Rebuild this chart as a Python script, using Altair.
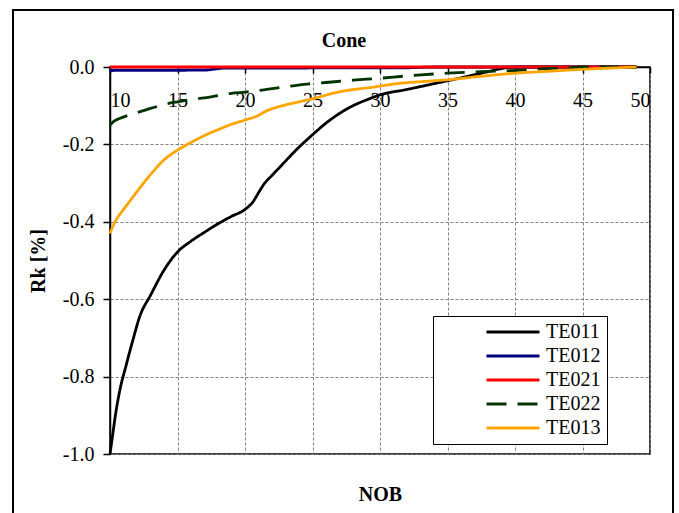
import altair as alt
import pandas as pd

series_names = ["TE011", "TE012", "TE021", "TE022", "TE013"]
series_colors = ["#000000", "#000080", "#FF0000", "#003300", "#FFA500"]
series_dash = [[1, 0], [1, 0], [1, 0], [20, 11], [1, 0]]

te011_nob = [10, 10.2, 10.4, 10.7, 11.2, 11.7, 12.2, 13, 14, 15, 16, 17, 18, 19, 20, 20.6, 21, 21.4, 22, 22.6, 23.8, 25, 26, 27, 28, 29, 30, 32, 34, 36, 38, 39, 40, 45, 49]
te011_rk = [-1.0, -0.95, -0.90, -0.84, -0.77, -0.705, -0.645, -0.59, -0.525, -0.478, -0.45, -0.427, -0.405, -0.386, -0.368, -0.348, -0.325, -0.303, -0.28, -0.258, -0.214, -0.175, -0.145, -0.12, -0.10, -0.085, -0.072, -0.058, -0.043, -0.028, -0.012, -0.004, 0.0, 0.0, 0.0]

te012_nob = [10, 17, 18.5, 32, 34, 49]
te012_rk = [-0.009, -0.008, -0.003, -0.002, 0.0, 0.0]

te021_nob = [10, 20, 30, 40, 49]
te021_rk = [0.0, 0.0, 0.0, 0.0, 0.0]

te022_nob = [10, 10.3, 10.7, 12, 13, 14, 15, 16, 17, 18, 19, 20, 21.6, 23, 24.6, 26, 28, 30, 32, 35, 37.5, 40, 42, 44, 45, 49]
te022_rk = [-0.15, -0.14, -0.133, -0.118, -0.107, -0.097, -0.09, -0.084, -0.08, -0.074, -0.068, -0.065, -0.058, -0.051, -0.044, -0.04, -0.034, -0.029, -0.023, -0.016, -0.012, -0.009, -0.005, -0.002, 0.0, 0.0]

te013_nob = [10, 10.3, 10.6, 11, 11.5, 12, 13, 14, 15, 16, 17, 18, 19, 20, 21, 21.5, 22, 23, 24, 25, 27, 29.5, 31.5, 33, 35, 37.5, 40, 42.5, 45, 47, 49]
te013_rk = [-0.43, -0.405, -0.387, -0.368, -0.345, -0.322, -0.278, -0.24, -0.215, -0.195, -0.177, -0.162, -0.148, -0.137, -0.125, -0.115, -0.108, -0.098, -0.09, -0.082, -0.064, -0.052, -0.042, -0.038, -0.033, -0.024, -0.016, -0.011, -0.006, -0.003, 0.0]

x_ticks = [10, 15, 20, 25, 30, 35, 40, 45, 50]
y_ticks = [-1.0, -0.8, -0.6, -0.4, -0.2, 0.0]

rows = []
for name, xs, ys in [
    ("TE011", te011_nob, te011_rk),
    ("TE012", te012_nob, te012_rk),
    ("TE021", te021_nob, te021_rk),
    ("TE022", te022_nob, te022_rk),
    ("TE013", te013_nob, te013_rk),
]:
    for xv, yv in zip(xs, ys):
        rows.append({"series": name, "NOB": xv, "Rk": yv})
df = pd.DataFrame(rows)

FONT = "'Liberation Serif', 'Times New Roman', Times, serif"

legend_props = dict(
    title=None,
    orient="none",
    legendX=323,
    legendY=249,
    strokeColor="black",
    fillColor="white",
    padding=6,
    symbolType="stroke",
    symbolSize=2809,
    clipHeight=20,
    symbolStrokeWidth=3,
    symbolOffset=46,
    labelOffset=5,
    labelFont=FONT,
    labelFontSize=20,
    labelColor="black",
    rowPadding=4,
    labelExpr="datum.label + '        '",
)

lines = alt.Chart(df).mark_line(strokeWidth=2.8, interpolate="monotone").encode(
    x=alt.X(
        "NOB:Q",
        scale=alt.Scale(domain=[10, 50], nice=False, zero=False),
        axis=alt.Axis(
            orient="bottom",
            offset=-387,
            values=x_ticks,
            format="d",
            title="NOB",
            titleY=433,
            titleBaseline="alphabetic",
            tickSize=6,
            labelPadding=17,
        ),
    ),
    y=alt.Y(
        "Rk:Q",
        scale=alt.Scale(domain=[-1, 0], nice=False, zero=False),
        axis=alt.Axis(
            values=y_ticks,
            labelExpr="(datum.value < 0 ? '-' : '') + format(abs(datum.value), '.1f')",
            title="Rk [%]",
            titleX=-72,
            titleBaseline="middle",
            tickSize=7,
            labelPadding=9,
        ),
    ),
    color=alt.Color("series:N", scale=alt.Scale(domain=series_names, range=series_colors), legend=alt.Legend(**legend_props)),
    strokeDash=alt.StrokeDash("series:N", scale=alt.Scale(domain=series_names, range=series_dash), legend=alt.Legend(**legend_props)),
)

frame = alt.Chart(df).mark_rect(fillOpacity=0, stroke="black", strokeWidth=2).encode(
    x=alt.value(-97), x2=alt.value(563), y=alt.value(-57), y2=alt.value(470)
)

chart = alt.layer(frame, lines).properties(
    width=540,
    height=387,
    padding={"left": 110, "top": 67, "right": 29, "bottom": 59},
    autosize="none",
    background="white",
    title=alt.TitleParams("Cone", font=FONT, fontSize=20, fontWeight="bold", color="black", dx=-36, offset=0, dy=58, baseline="alphabetic"),
).configure_view(
    stroke="black", strokeWidth=1.5
).configure_axis(
    labelFont=FONT,
    labelFontSize=20,
    labelColor="black",
    titleFont=FONT,
    titleFontSize=20,
    titleFontWeight="bold",
    titleColor="black",
    domainColor="black",
    domainWidth=1.5,
    tickColor="black",
    tickWidth=1.5,
    gridColor="#808080",
    gridDash=[3, 2],
    gridWidth=1,
)

chart.save("out.html", embed_options={"renderer": "svg", "actions": False})
